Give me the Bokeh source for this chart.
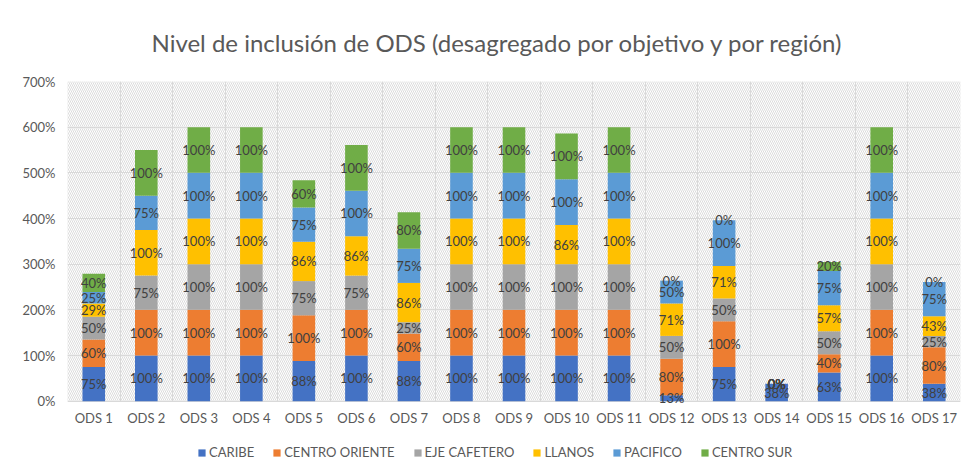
from bokeh.plotting import figure
from bokeh.models import (ColumnDataSource, FixedTicker, PrintfTickFormatter, BoxAnnotation,
                          Legend, LegendItem, Range1d, FactorRange)
from bokeh.core.properties import value
from bokeh.embed import file_html
from bokeh.resources import INLINE
import numpy as np

categories = ["ODS 1", "ODS 2", "ODS 3", "ODS 4", "ODS 5", "ODS 6", "ODS 7", "ODS 8", "ODS 9",
              "ODS 10", "ODS 11", "ODS 12", "ODS 13", "ODS 14", "ODS 15", "ODS 16", "ODS 17"]
regions = ["CARIBE", "CENTRO ORIENTE", "EJE CAFETERO", "LLANOS", "PACIFICO", "CENTRO SUR"]
caribe = [75, 100, 100, 100, 88, 100, 88, 100, 100, 100, 100, 13, 75, 38, 63, 100, 38]
centro_oriente = [60, 100, 100, 100, 100, 100, 60, 100, 100, 100, 100, 80, 100, 0, 40, 100, 80]
eje_cafetero = [50, 75, 100, 100, 75, 75, 25, 100, 100, 100, 100, 50, 50, 0, 50, 100, 25]
llanos = [29, 100, 100, 100, 86, 86, 86, 100, 100, 86, 100, 71, 71, 0, 57, 100, 43]
pacifico = [25, 75, 100, 100, 75, 100, 75, 100, 100, 100, 100, 50, 100, 0, 75, 100, 75]
centro_sur = [40, 100, 100, 100, 60, 100, 80, 100, 100, 100, 100, 0, 0, 0, 20, 100, 0]
y_ticks = [0, 100, 200, 300, 400, 500, 600, 700]

colors = ["#4472C4", "#ED7D31", "#A5A5A5", "#FFC000", "#5B9BD5", "#70AD47"]
series = [caribe, centro_oriente, eje_cafetero, llanos, pacifico, centro_sur]
keys = ["s%d" % i for i in range(len(series))]

data = {"cat": categories}
for k, s in zip(keys, series):
    data[k] = s
src = ColumnDataSource(data)

# label positions (segment middles)
arr = np.array(series, dtype=float)
cum = np.cumsum(arr, axis=0)
mids = cum - arr / 2.0
lab_x, lab_y, lab_t = [], [], []
for i in range(arr.shape[0]):
    for j in range(arr.shape[1]):
        lab_x.append(categories[j])
        lab_y.append(float(mids[i, j]))
        lab_t.append("%d%%" % series[i][j])
lsrc = ColumnDataSource(dict(x=lab_x, y=lab_y, t=lab_t))

# frame runs to the bottom of the canvas; the area below 0% holds category labels + legend
y_low = -149.5
p = figure(width=967, height=469, x_range=FactorRange(*categories),
           y_range=Range1d(y_low, y_ticks[-1]), x_axis_location=None,
           output_backend="svg", toolbar_location=None,
           min_border_left=67, min_border_right=7, min_border_top=77, min_border_bottom=0)
p.x_range.range_padding = 0
p.outline_line_color = None

p.title.text = "Nivel de inclusión de ODS (desagregado por objetivo y por región)"
p.title.align = "left"
p.title.offset = 84
p.title.text_font = "Lato"
p.title.text_font_size = "24px"
p.title.text_font_style = "normal"
p.title.text_color = "#595959"
p.title.standoff = 50

# hatched plot area with light border
bg = BoxAnnotation(bottom=y_ticks[0], top=y_ticks[-1], fill_alpha=0, line_color="#d9d9d9",
                   line_width=1, hatch_pattern="\\", hatch_color="#dcdcdc",
                   hatch_scale=4, hatch_weight=1, level="image")
p.add_layout(bg)

p.ygrid.ticker = FixedTicker(ticks=y_ticks)
p.ygrid.grid_line_color = "#d9d9d9"
p.xgrid.ticker = FixedTicker(ticks=list(range(len(categories) + 1)))
p.xgrid.grid_line_color = "#d9d9d9"
if "cross_bounds" in p.xgrid.properties():
    p.xgrid.cross_bounds = (y_ticks[0], y_ticks[-1])
else:
    # hide the part of the category dividers that falls below 0%
    p.add_layout(BoxAnnotation(top=y_ticks[0] - 1.5, fill_color="white", fill_alpha=1,
                               line_alpha=0, level="underlay"))

rends = p.vbar_stack(keys, x="cat", width=0.43, color=colors, source=src, line_width=0)

p.text(x="x", y="y", text="t", source=lsrc, text_font=value("Lato"), text_font_size="13px",
       text_align="center", text_baseline="middle", text_color="#404040")

# category labels under the 0% line
csrc = ColumnDataSource(dict(x=categories, y=[y_ticks[0]] * len(categories), t=categories))
p.text(x="x", y="y", text="t", source=csrc, text_font=value("Lato"), text_font_size="13px",
       text_align="center", text_baseline="middle", text_color="#595959", y_offset=17)

ax = p.yaxis[0]
ax.axis_line_color = None
ax.major_tick_line_color = None
ax.minor_tick_line_color = None
ax.major_tick_out = 0
ax.major_tick_in = 0
ax.major_label_text_font = "Lato"
ax.major_label_text_font_size = "13px"
ax.major_label_text_color = "#595959"
ax.ticker = FixedTicker(ticks=y_ticks)
ax.formatter = PrintfTickFormatter(format="%d%%")
ax.major_label_standoff = 12

legend = Legend(items=[LegendItem(label=r, renderers=[rd]) for r, rd in zip(regions, rends)],
                orientation="horizontal", location=(126, 5), margin=0,
                glyph_width=9, glyph_height=9, label_standoff=3, spacing=18, padding=4,
                border_line_alpha=0, background_fill_alpha=0,
                label_text_font="Lato", label_text_font_size="13px", label_text_color="#595959")
p.add_layout(legend)

open("out.html", "w").write(file_html(p, INLINE))
